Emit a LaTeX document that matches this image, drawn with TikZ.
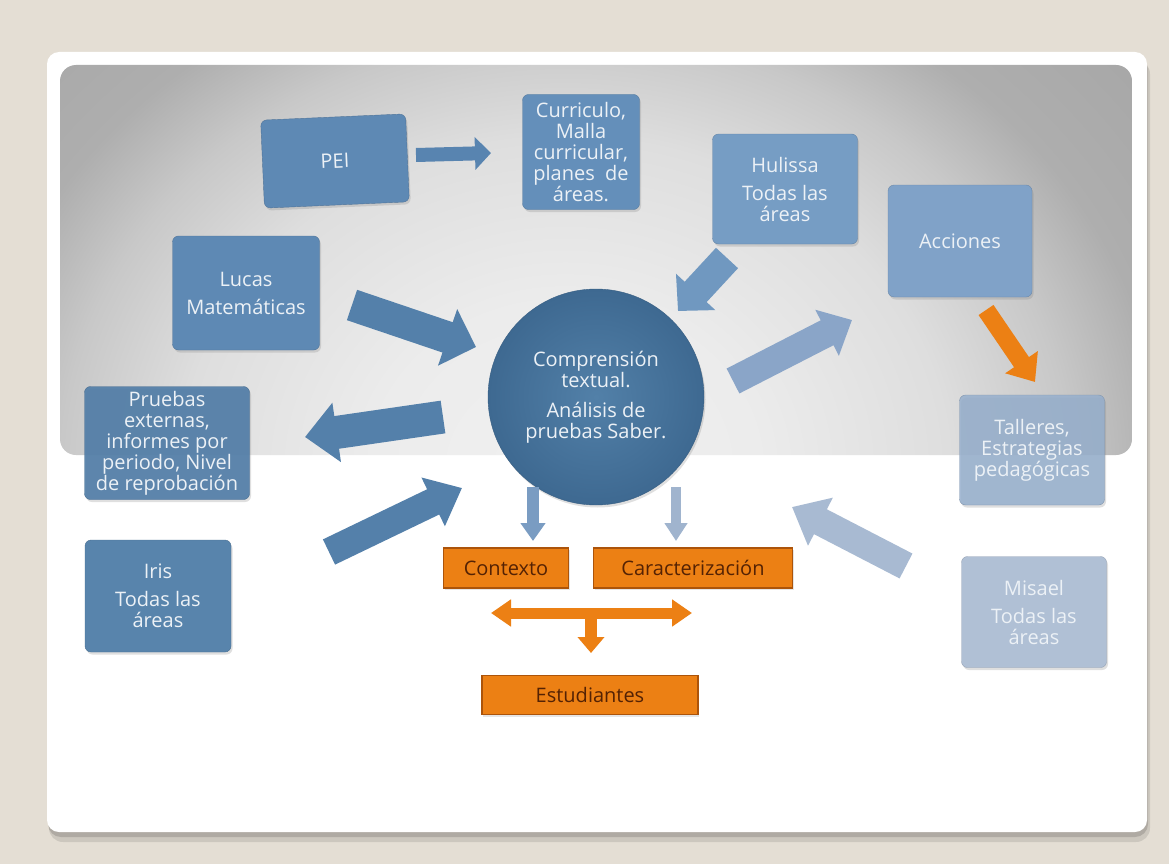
\documentclass[tikz,border=0pt]{standalone}
\usepackage{fontspec}
\setmainfont{Open Sans}
\usetikzlibrary{arrows.meta,shadows}
\definecolor{bg}{RGB}{228,222,212}
\definecolor{pc0}{RGB}{240,240,240}
\definecolor{pc1}{RGB}{236,236,236}
\definecolor{pc2}{RGB}{222,222,222}
\definecolor{pc3}{RGB}{200,200,200}
\definecolor{pc4}{RGB}{174,174,174}
\definecolor{pc5}{RGB}{166,166,166}
\pgfdeclareradialshading{panelshade}{\pgfpointorigin}{color(0bp)=(pc0); color(8bp)=(pc1); color(16bp)=(pc2); color(21bp)=(pc3); color(25bp)=(pc4); color(32bp)=(pc5); color(50bp)=(pc5)}
\definecolor{cPEI}{RGB}{94,137,180}
\definecolor{cCur}{RGB}{100,143,186}
\definecolor{cHul}{RGB}{118,157,196}
\definecolor{cAcc}{RGB}{128,162,200}
\definecolor{cLuc}{RGB}{94,137,180}
\definecolor{cPru}{RGB}{82,126,168}
\definecolor{cIris}{RGB}{88,132,172}
\definecolor{cTal}{RGB}{150,175,205}
\definecolor{cMis}{RGB}{176,192,213}
\definecolor{cCircIn}{RGB}{82,128,168}
\definecolor{cCircOut}{RGB}{62,105,145}
\definecolor{txtw}{RGB}{236,241,246}
\definecolor{org}{RGB}{236,128,20}
\definecolor{orgd}{RGB}{172,84,10}
\definecolor{orgt}{RGB}{84,34,4}
\definecolor{arA}{RGB}{88,132,176}
\definecolor{arB}{RGB}{84,128,170}
\definecolor{arC}{RGB}{112,152,192}
\definecolor{arD}{RGB}{138,165,200}
\definecolor{arE}{RGB}{168,186,210}
\definecolor{arF}{RGB}{122,156,194}
\definecolor{arG}{RGB}{160,180,206}
\newcommand\bxfont{\fontsize{20}{21}\selectfont}
\tikzset{
  bx/.style={draw=#1!85!black, fill=#1, rounded corners=6pt, text=txtw, align=center,
    font=\bxfont, inner sep=0pt,
    drop shadow={opacity=0.25, shadow xshift=1.5pt, shadow yshift=-2.5pt}},
  obx/.style={draw=orgd, fill=org, line width=1.2pt, text=orgt, font=\bxfont, inner sep=0pt,
    drop shadow={opacity=0.2, shadow xshift=1pt, shadow yshift=-2pt}},
  blk/.style n args={4}{draw=#1, line width=#2, -{Triangle[width=#3,length=#4]}},
  dblk/.style n args={4}{draw=#1, line width=#2, {Triangle[width=#3,length=#4]}-{Triangle[width=#3,length=#4]}},
}
\begin{document}
\begin{tikzpicture}[x=1pt,y=-1pt]
\useasboundingbox (0,0) rectangle (1169,864);
\fill[bg] (0,0) rectangle (1169,864);
% card
\fill[black, opacity=0.10, rounded corners=14pt] (49,60) rectangle (1150,842);
\fill[black, opacity=0.14, rounded corners=13pt] (48,56) rectangle (1148,837);
\fill[white, rounded corners=12pt] (47,52) rectangle (1147,832);
% panel
\begin{scope}
\clip[rounded corners=16pt] (60,65) rectangle (1132,455);
\shade[shading=panelshade] (-35,-50) rectangle (1165,990);
\end{scope}

% nodes
\node[bx=cPEI, minimum width=145pt, minimum height=88pt, rotate=2.5] (pei) at (335,161) {PEI};
\node[bx=cCur, minimum width=117pt, minimum height=115pt] (cur) at (581,152)
  {Curriculo,\\Malla\\curricular,\\planes\ \ de\\áreas.};
\node[bx=cHul, minimum width=145pt, minimum height=110pt] (hul) at (785,189)
  {Hulissa\\[7pt]Todas las\\áreas};
\node[bx=cAcc, minimum width=144pt, minimum height=112pt] (acc) at (960,241) {Acciones};
\node[bx=cLuc, minimum width=147pt, minimum height=114pt] (luc) at (246,293)
  {Lucas\\[7pt]Matemáticas};
\node[bx=cPru, minimum width=165pt, minimum height=113pt, fill opacity=0.92, text opacity=1] (pru) at (167,443)
  {Pruebas\\externas,\\informes por\\periodo, Nivel\\de reprobación};
\node[bx=cIris, minimum width=146pt, minimum height=112pt] (iris) at (158,596)
  {Iris\\[7pt]Todas las\\áreas};
\node[bx=cTal, minimum width=145pt, minimum height=110pt, fill opacity=0.85, text opacity=1] (tal) at (1032,450)
  {Talleres,\\Estrategias\\pedagógicas};
\node[bx=cMis, minimum width=145pt, minimum height=111pt] (mis) at (1034,612)
  {Misael\\[7pt]Todas las\\áreas};
\node[circle, minimum size=216pt, inner sep=0pt, inner color=cCircIn, outer color=cCircOut,
  draw=cCircOut!90!black, text=txtw, align=center, font=\bxfont,
  drop shadow={opacity=0.25, shadow xshift=1.5pt, shadow yshift=-2.5pt}] (circ) at (596,397)
  {Comprensión\\textual.\\[9pt]Análisis de\\pruebas Saber.};
\node[obx, minimum width=125pt, minimum height=40pt] (ctx) at (506,568) {Contexto};
\node[obx, minimum width=199pt, minimum height=40pt] (car) at (693,568) {Caracterización};
\node[obx, minimum width=216pt, minimum height=39pt] (est) at (590,695) {Estudiantes};

% arrow end points
\coordinate (a1s) at (416,155); \coordinate (a1e) at (491,153);
\coordinate (a2s) at (352,305); \coordinate (a2e) at (476,347);
\coordinate (a3s) at (727,258); \coordinate (a3e) at (678,311);
\coordinate (a4s) at (733,381); \coordinate (a4e) at (852,320);
\coordinate (a5s) at (443,417); \coordinate (a5e) at (305,437);
\coordinate (a6s) at (329,552); \coordinate (a6e) at (462,488);
\coordinate (a7s) at (906,566); \coordinate (a7e) at (792,507);
\coordinate (a8s) at (533,487); \coordinate (a8e) at (533,541);
\coordinate (a9s) at (676,487); \coordinate (a9e) at (676,541);
\coordinate (a10s) at (986,310); \coordinate (a10e) at (1035,382);
\coordinate (dl) at (491,613); \coordinate (dr) at (692,613);
\coordinate (dm) at (591,612); \coordinate (dd) at (591,653);

\draw[blk={arA}{14pt}{32pt}{16pt}] (a1s) -- (a1e);
\draw[blk={arB}{32pt}{58pt}{30pt}] (a2s) -- (a2e);
\draw[blk={arC}{30pt}{52pt}{26pt}] (a3s) -- (a3e);
\draw[blk={arD}{28pt}{50pt}{28pt}] (a4s) -- (a4e);
\draw[blk={arB}{33pt}{58pt}{32pt}] (a5s) -- (a5e);
\draw[blk={arB}{28pt}{52pt}{32pt}] (a6s) -- (a6e);
\draw[blk={arE}{28pt}{52pt}{32pt}] (a7s) -- (a7e);
\draw[blk={arF}{12pt}{24pt}{18pt}] (a8s) -- (a8e);
\draw[blk={arG}{10pt}{22pt}{18pt}] (a9s) -- (a9e);
\draw[blk={org}{18pt}{38pt}{24pt}] (a10s) -- (a10e);
\draw[dblk={org}{11pt}{26pt}{20pt}] (dl) -- (dr);
\draw[blk={org}{12pt}{26pt}{16pt}] (dm) -- (dd);
\end{tikzpicture}
\end{document}
